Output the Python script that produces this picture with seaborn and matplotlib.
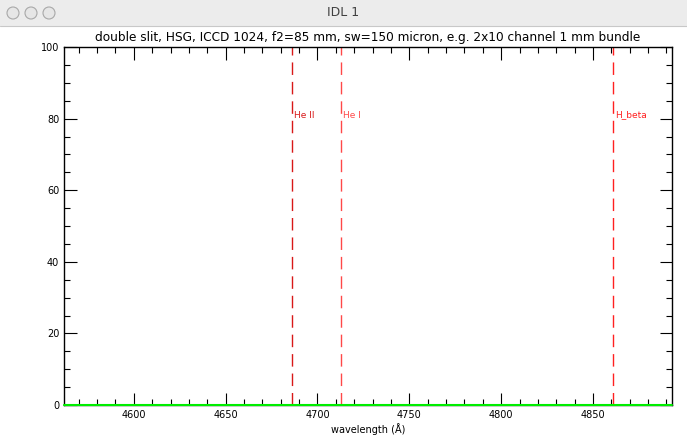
import matplotlib
matplotlib.use('Agg')
import matplotlib.pyplot as plt
from matplotlib.patches import Rectangle, Ellipse
from matplotlib.ticker import MultipleLocator
import numpy as np
import pandas as pd
import seaborn as sns

# spectrum (flat, all zero) and the marked lines
wave = [4562, 4600, 4650, 4700, 4750, 4800, 4850, 4893]
counts = [0, 0, 0, 0, 0, 0, 0, 0]
line_names = ['He II', 'He I', 'H_beta']
line_waves = [4686, 4713, 4861]
line_colors = ['#d81818', '#ff4848', '#ff2020']

sns.set_style('white')
plt.rcParams['font.family'] = ['DejaVu Sans']
plt.rcParams['text.color'] = 'black'
plt.rcParams['xtick.color'] = 'black'
plt.rcParams['ytick.color'] = 'black'
plt.rcParams['axes.labelcolor'] = 'black'

fig = plt.figure(figsize=(6.87, 4.46), dpi=100)

# window title bar
fig.patches.append(Rectangle((0, 1 - 26 / 446), 1, 26 / 446, transform=fig.transFigure,
                             facecolor='#ececec', edgecolor='none', zorder=0))
fig.add_artist(plt.Line2D([0, 1], [1 - 26 / 446] * 2, transform=fig.transFigure, color='#c8c8c8', lw=0.8))
for cx in [13, 31, 49]:
    fig.patches.append(Ellipse((cx / 687, 1 - 13 / 446), 12 / 687, 12 / 446, transform=fig.transFigure,
                               facecolor='#e6e6e6', edgecolor='#a8a8a8', lw=0.8))
fig.text(0.5, 1 - 13 / 446, 'IDL 1', ha='center', va='center', fontsize=9, color='#404040')

ax = fig.add_axes([64 / 687, 1 - 405 / 446, 608 / 687, 358 / 446])

df = pd.DataFrame({'wave': wave, 'counts': counts})
sns.lineplot(data=df, x='wave', y='counts', color='#00ee00', lw=1.5, ax=ax, zorder=3, clip_on=False)

for name, w, c in zip(line_names, line_waves, line_colors):
    ax.axvline(w, color=c, lw=1, dashes=(9, 5))
    ax.text(w + 1, 81, name, color=c, fontsize=6.5, va='center', ha='left')

ax.set_xlim(4562, 4893)
ax.set_ylim(0, 100)
ax.xaxis.set_major_locator(MultipleLocator(50))
ax.xaxis.set_minor_locator(MultipleLocator(10))
ax.yaxis.set_major_locator(MultipleLocator(20))
ax.yaxis.set_minor_locator(MultipleLocator(5))
ax.tick_params(which='both', direction='in', top=True, right=True, bottom=True, left=True,
               labelsize=7, width=0.8)
ax.tick_params(which='major', length=9)
ax.tick_params(which='minor', length=4.5)
for s in ax.spines.values():
    s.set_linewidth(1)
    s.set_color('black')

ax.set_title('double slit, HSG, ICCD 1024, f2=85 mm, sw=150 micron, e.g. 2x10 channel 1 mm bundle',
             fontsize=8.7, pad=4)
ax.set_xlabel('wavelength (Å)', fontsize=7, labelpad=2)
ax.set_ylabel('')

plt.savefig('out.png', dpi=100)
